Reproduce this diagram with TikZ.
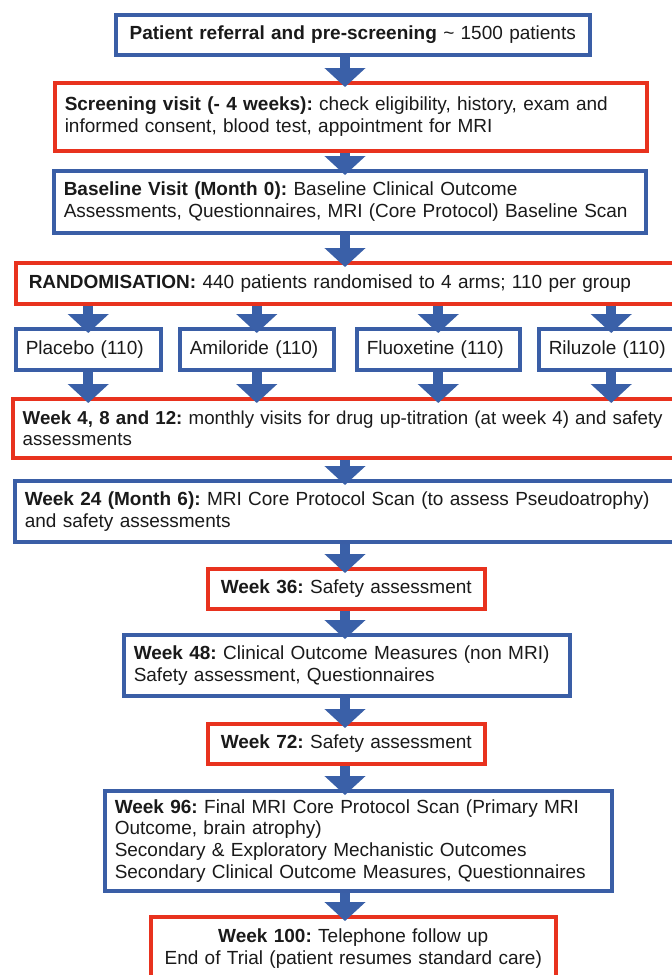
\documentclass[tikz,border=0pt]{standalone}
\usepackage{fontspec}
\setmainfont{Liberation Sans}
\usetikzlibrary{arrows.meta}

\definecolor{tblue}{RGB}{58,94,166}
\definecolor{tred}{RGB}{232,50,30}
\definecolor{ablue}{RGB}{58,96,168}
\definecolor{ink}{RGB}{26,26,26}

\tikzset{
  box/.style={draw, line width=3.5pt, fill=white, text=ink, anchor=north west,
    inner xsep=10pt, inner ysep=0pt, align=left,
    font=\fontsize{19}{21.7}\selectfont\frenchspacing},
  bluebox/.style={box, draw=tblue},
  redbox/.style={box, draw=tred},
  flow/.style={draw=ablue, line width=10pt, shorten >=-6pt,
    -{Triangle[width=40pt, length=19pt]}}
}

\begin{document}
\frenchspacing
\begin{tikzpicture}[x=1pt, y=-1pt]
\useasboundingbox (0,0) rectangle (672,975);
\clip (0,0) rectangle (672,975);
\fill[white] (0,0) rectangle (672,975);

\coordinate (spine) at (345,0);

% main sequence of visits
\node[bluebox, align=center, text width=454pt, minimum height=40pt] (b1) at (114,13)
  {\textbf{Patient referral and pre-screening} \textasciitilde\ 1500 patients};
\node[redbox, text width=572pt, minimum height=68pt] (b2) at (53,81)
  {\textbf{Screening visit (- 4 weeks):} check eligibility, history, exam and\\
   informed consent, blood test, appointment for MRI};
\node[bluebox, text width=572pt, minimum height=62pt] (b3) at (52,169)
  {\textbf{Baseline Visit (Month 0):} Baseline Clinical Outcome\\
   Assessments, Questionnaires, MRI (Core Protocol) Baseline Scan};
\node[redbox, inner xsep=13pt, text width=654pt, minimum height=41pt] (b4) at (14,261)
  {\textbf{RANDOMISATION:} 440 patients randomised to 4 arms; 110 per group};

% treatment arms
\node[bluebox, text width=125pt, minimum height=41pt] (p) at (14,327) {Placebo (110)};
\node[bluebox, text width=134pt, minimum height=41pt] (a) at (178,327) {Amiloride (110)};
\node[bluebox, text width=143pt, minimum height=41pt] (f) at (355,327) {Fluoxetine (110)};
\node[bluebox, text width=125pt, minimum height=41pt] (r) at (537,327) {Riluzole (110)};

\node[redbox, text width=660pt, minimum height=59pt,
      font=\fontsize{18.7}{21.7}\selectfont\frenchspacing] (b5) at (11,397)
  {\textbf{Week 4, 8 and 12:} monthly visits for drug up-titration (at week 4) and safety\\
   assessments};
\node[bluebox, text width=660pt, minimum height=61pt] (b6) at (13,479)
  {\textbf{Week 24 (Month 6):} MRI Core Protocol Scan (to assess Pseudoatrophy)\\
   and safety assessments};
\node[redbox, align=center, text width=257pt, minimum height=40pt] (b7) at (206,567)
  {\textbf{Week 36:} Safety assessment};
\node[bluebox, text width=426pt, minimum height=61pt] (b8) at (122,633)
  {\textbf{Week 48:} Clinical Outcome Measures (non MRI)\\
   Safety assessment, Questionnaires};
\node[redbox, align=center, text width=257pt, minimum height=40pt] (b9) at (206,722)
  {\textbf{Week 72:} Safety assessment};
\node[bluebox, text width=487pt, minimum height=100pt] (b10) at (103,789)
  {\textbf{Week 96:} Final MRI Core Protocol Scan (Primary MRI\\
   Outcome, brain atrophy)\\
   Secondary \& Exploratory Mechanistic Outcomes\\
   Secondary Clinical Outcome Measures, Questionnaires};
\node[redbox, align=center, text width=385pt, minimum height=64pt] (b11) at (149,915)
  {\textbf{Week 100:} Telephone follow up\\
   End of Trial (patient resumes standard care)};

% block arrows
\draw[flow] (b1.south -| spine) -- (b2.north -| spine);
\draw[flow] (b2.south -| spine) -- (b3.north -| spine);
\draw[flow] (b3.south -| spine) -- (b4.north -| spine);
\foreach \arm in {p,a,f,r}{
  \draw[flow] (b4.south -| \arm.north) -- (\arm.north);
  \draw[flow] (\arm.south) -- (b5.north -| \arm.south);
}
\draw[flow] (b5.south -| spine) -- (b6.north -| spine);
\draw[flow] (b6.south -| spine) -- (b7.north -| spine);
\draw[flow] (b7.south -| spine) -- (b8.north -| spine);
\draw[flow] (b8.south -| spine) -- (b9.north -| spine);
\draw[flow] (b9.south -| spine) -- (b10.north -| spine);
\draw[flow] (b10.south -| spine) -- (b11.north -| spine);
\end{tikzpicture}
\end{document}
